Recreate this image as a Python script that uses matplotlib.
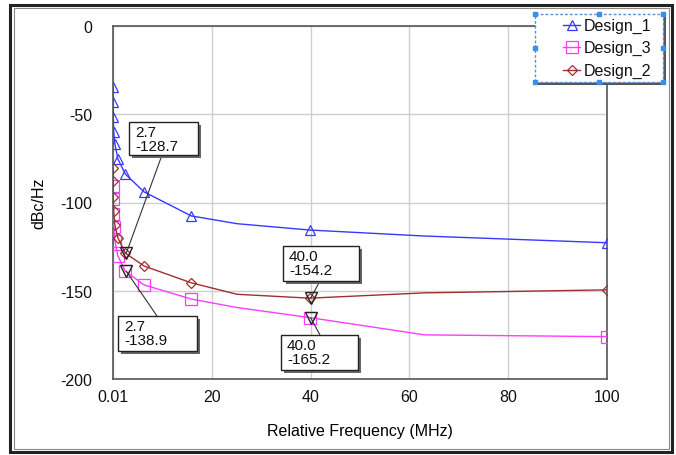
import matplotlib
matplotlib.use("Agg")
import matplotlib.pyplot as plt
import matplotlib.patheffects as pe
from matplotlib.patches import Rectangle, ConnectionPatch
from matplotlib.lines import Line2D

plt.rcParams['font.family'] = ['Liberation Sans', 'DejaVu Sans']
plt.rcParams['axes.unicode_minus'] = False

# ---- data ----
freq = [0.01, 0.025, 0.063, 0.158, 0.398, 1.0, 2.51, 6.31, 15.85, 25.1, 39.8, 63.1, 100.0]
design_1 = [-34.6, -43.0, -51.6, -60.0, -66.9, -75.4, -83.9, -94.0, -107.6, -112.0, -115.6, -119.0, -122.8]
design_3 = [-90.7, -98.0, -106.5, -113.9, -121.8, -130.3, -138.9, -146.7, -154.7, -159.5, -165.2, -175.0, -176.0]
design_2 = [-80.5, -88.0, -97.0, -105.0, -113.0, -120.0, -128.7, -136.0, -145.5, -152.0, -154.2, -151.2, -149.5]
marker_idx = [0, 1, 2, 3, 4, 5, 6, 7, 8, 10, 12]

mark_x = [2.7, 2.7, 40.0, 40.0]
mark_y = [-128.7, -138.9, -154.2, -165.2]

x_ticks = [0.01, 20, 40, 60, 80, 100]
x_tick_labels = ["0.01", "20", "40", "60", "80", "100"]
y_ticks = [0, -50, -100, -150, -200]

W, H = 676, 456
fig = plt.figure(figsize=(W / 100, H / 100), dpi=100)
fig.patch.set_facecolor('white')


def fp(x, y):
    """figure pixel (top-left origin) -> figure fraction"""
    return x / W, 1 - y / H


# outer frame
fig.patches.append(Rectangle((10 / W, 3 / H), 662 / W, 447 / H, transform=fig.transFigure,
                             fill=False, ec='#222222', lw=2.2))
fig.patches.append(Rectangle((13.5 / W, 6 / H), 655 / W, 441 / H, transform=fig.transFigure,
                             fill=False, ec='#888888', lw=0.8))

ax = fig.add_axes([113 / W, 1 - 380 / H, (607 - 113) / W, (380 - 27) / H])
ax.set_xlim(0.01, 100)
ax.set_ylim(-200, 0)

styles = [
    ('Design_1', design_1, '#3838ff', '^', 7.5),
    ('Design_3', design_3, '#ff3cff', 's', 8),
    ('Design_2', design_2, '#9e3030', 'D', 5.5),
]
for name, vals, col, mk, ms in styles:
    ax.plot(freq, vals, color=col, lw=1.0, marker=mk, ms=ms, mfc='none', mec=col,
            mew=0.9, markevery=marker_idx, label=name, zorder=3)

ax.plot(mark_x, mark_y, linestyle='none', marker='v', ms=8, mfc='none', mec='#222222', mew=1.0, zorder=4)

ax.set_xticks(x_ticks)
ax.set_xticklabels(x_tick_labels)
ax.set_yticks(y_ticks)
ax.tick_params(axis='x', length=0, labelsize=11.5, pad=7, colors='#111111')
ax.tick_params(axis='y', length=0, labelsize=11.5, pad=15, colors='#111111')
ax.grid(True, color='#cfcfcf', lw=1.0)
ax.set_axisbelow(True)
for s in ax.spines.values():
    s.set_color('#555555')
    s.set_linewidth(1.2)

ax.set_ylabel('dBc/Hz', fontsize=11.5, labelpad=10)
ax.set_xlabel('Relative Frequency (MHz)', fontsize=11.5, labelpad=14)

# annotation boxes: (left, top, right, bottom, line start x, line start y) in pixels, top-left origin
boxes = [
    (129, 123, 198, 156, 162, 156),
    (118, 317, 197, 352, 157, 317),
    (283, 247, 359, 282, 320, 282),
    (281, 336, 358, 371, 320, 336),
]
shadow = [pe.SimplePatchShadow(offset=(2.5, -2.5), shadow_rgbFace='#666666', alpha=1.0), pe.Normal()]
for (l, t, r, b, lx, ly), mx, my in zip(boxes, mark_x, mark_y):
    x0, y0 = fp(l, b)
    rect = Rectangle((x0, y0), (r - l) / W, (b - t) / H, transform=fig.transFigure,
                     fc='white', ec='#222222', lw=1.0, zorder=6)
    rect.set_path_effects(shadow)
    fig.add_artist(rect)
    tx, ty = fp(l + 6, t + 3)
    fig.text(tx, ty, f"{mx:.1f}\n{my:.1f}", ha='left', va='top', fontsize=11, linespacing=1.02,
             zorder=7, color='#111111')
    cp = ConnectionPatch(xyA=fp(lx, ly), coordsA=fig.transFigure, xyB=(mx, my), coordsB=ax.transData,
                         color='#333333', lw=0.8, zorder=5)
    fig.add_artist(cp)

# legend (manual)
ll, lt, lr, lb = 535, 15, 663, 83
x0, y0 = fp(ll, lb)
lrect = Rectangle((x0, y0), (lr - ll) / W, (lb - lt) / H, transform=fig.transFigure,
                  fc='white', ec='#5b8fd0', lw=1.0, linestyle=(0, (2, 1.5)), zorder=10)
lrect.set_path_effects([pe.SimplePatchShadow(offset=(2.5, -2.5), shadow_rgbFace='#555555', alpha=1.0),
                        pe.Normal()])
fig.add_artist(lrect)
entry_y = [26, 48, 71]
for (name, vals, col, mk, ms), ey in zip(styles, entry_y):
    ax0, ay = fp(563, ey)
    ax1, _ = fp(580, ey)
    fig.add_artist(Line2D([ax0, ax1], [ay, ay], transform=fig.transFigure, color=col, lw=1.0, zorder=11))
    fig.add_artist(Line2D([(ax0 + ax1) / 2], [ay], transform=fig.transFigure, marker=mk, ms=ms,
                          mfc='none', mec=col, mew=0.9, linestyle='none', zorder=11))
    tx, ty = fp(584, ey)
    fig.text(tx, ty, name, ha='left', va='center', fontsize=11.5, zorder=12, color='#111111')

hx, hy = [], []
for xx in [ll, (ll + lr) / 2, lr]:
    for yy in [lt, (lt + lb) / 2, lb]:
        if xx == (ll + lr) / 2 and yy == (lt + lb) / 2:
            continue
        fx, fy = fp(xx, yy)
        hx.append(fx)
        hy.append(fy)
fig.add_artist(Line2D(hx, hy, transform=fig.transFigure, linestyle='none', marker='s', ms=3.2,
                      mfc='#3a8ee6', mec='#3a8ee6', zorder=20))

fig.savefig('out.png', dpi=100)
